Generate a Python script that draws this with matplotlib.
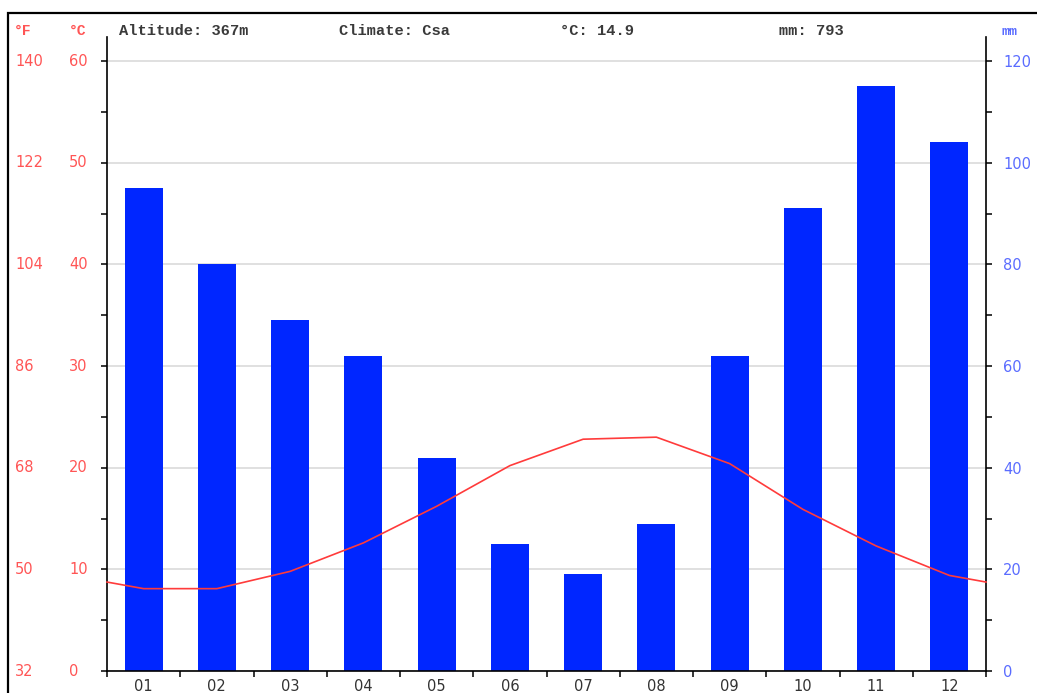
import matplotlib
matplotlib.use("Agg")
import matplotlib.pyplot as plt
from matplotlib.patches import Rectangle
from matplotlib.transforms import blended_transform_factory
import numpy as np

months = ["01", "02", "03", "04", "05", "06", "07", "08", "09", "10", "11", "12"]
precip_mm = [95, 80, 69, 62, 42, 25, 19, 29, 62, 91, 115, 104]
temp_c = [8.1, 8.1, 9.8, 12.6, 16.2, 20.2, 22.8, 23.0, 20.4, 15.9, 12.3, 9.4]
c_ticks = [0, 10, 20, 30, 40, 50, 60]
f_labels = ["32", "50", "68", "86", "104", "122", "140"]
mm_ticks = [0, 20, 40, 60, 80, 100, 120]
header = ["Altitude: 367m", "Climate: Csa", "°C: 14.9", "mm: 793"]

W, H = 1037, 693
fig = plt.figure(figsize=(W / 100, H / 100), dpi=100)
fig.patch.set_facecolor("white")

def fx(px):
    return px / W

def fy(py):
    return 1 - py / H

left, right, bottom, top = 107, 986, 671, 37
ax1 = fig.add_axes([fx(left), fy(bottom), fx(right) - fx(left), fy(top) - fy(bottom)])
ax2 = ax1.twinx()

c_top = (bottom - top) / ((bottom - 61) / 60.0)
ax1.set_xlim(0, 12)
ax1.set_ylim(0, c_top)
ax2.set_ylim(0, c_top * 2)

RED_LBL = "#ff5555"
BLUE_LBL = "#5a6cff"
BAR = "#0026ff"
LINE = "#ff3b3b"
GRID = "#dddddd"
LBL = 10.5

# bars on ax2 (mm)
x_centers = np.arange(12) + 0.5
ax2.bar(x_centers, precip_mm, width=0.52, color=BAR, edgecolor="none", zorder=3)
ax2.set_axisbelow(True)
ax2.set_yticks(mm_ticks)
ax2.set_yticks(np.arange(10, 121, 20), minor=True)
ax2.yaxis.grid(True, which="major", color=GRID, linewidth=1.3, zorder=0)
ax2.tick_params(axis="y", which="both", direction="out", length=4, width=1.1,
                colors="black", labelcolor=BLUE_LBL, labelsize=LBL, pad=8.5)
for s in ["left", "top", "bottom"]:
    ax2.spines[s].set_visible(False)
ax2.spines["right"].set_linewidth(1.2)

# temperature on ax1 (on top)
ax1.set_zorder(ax2.get_zorder() + 1)
ax1.patch.set_visible(False)
edge = (temp_c[0] + temp_c[-1]) / 2
lx = [0] + list(x_centers) + [12]
ly = [edge] + temp_c + [edge]
ax1.plot(lx, ly, color=LINE, linewidth=1.2, zorder=5, clip_on=False)

ax1.set_yticks(c_ticks)
ax1.set_yticks(np.arange(5, 60, 10), minor=True)
ax1.set_yticklabels([])
ax1.tick_params(axis="y", which="both", direction="out", length=4, width=1.1)
ax1.set_xticks(np.arange(0, 13))
ax1.set_xticklabels([])
ax1.set_xticks(x_centers, minor=True)
ax1.set_xticklabels(months, minor=True)
ax1.tick_params(axis="x", which="major", direction="out", length=4, width=1.1)
ax1.tick_params(axis="x", which="minor", length=0, pad=6, labelsize=LBL, labelcolor="#333333")
for s in ["top", "right"]:
    ax1.spines[s].set_visible(False)
ax1.spines["left"].set_linewidth(1.2)
ax1.spines["bottom"].set_linewidth(1.2)

# left labels (°F and °C columns)
tr = blended_transform_factory(fig.transFigure, ax1.transData)
for c, f in zip(c_ticks, f_labels):
    ax1.text(fx(15), c, f, transform=tr, ha="left", va="center", color=RED_LBL, fontsize=LBL, clip_on=False)
    ax1.text(fx(69), c, str(c), transform=tr, ha="left", va="center", color=RED_LBL, fontsize=LBL, clip_on=False)

mono = "Liberation Mono"
fig.text(fx(14), fy(31), "°F", ha="left", va="center", color=RED_LBL, fontsize=10.5, family=mono, weight="bold")
fig.text(fx(69), fy(31), "°C", ha="left", va="center", color=RED_LBL, fontsize=10.5, family=mono, weight="bold")
fig.text(fx(1002), fy(32), "mm", ha="left", va="center", color=BLUE_LBL, fontsize=9.5, family=mono, weight="bold")
for xpx, t in zip([119, 339, 560, 779], header):
    fig.text(fx(xpx), fy(31), t, ha="left", va="center", color="#3a3a3a", fontsize=11.1, family=mono, weight="bold")

# outer frame
fig.add_artist(Rectangle((fx(8), -0.2), 1.5, fy(13) + 0.2, transform=fig.transFigure,
                         fill=False, edgecolor="black", linewidth=1.6))

fig.savefig("out.png", dpi=100, facecolor="white")
